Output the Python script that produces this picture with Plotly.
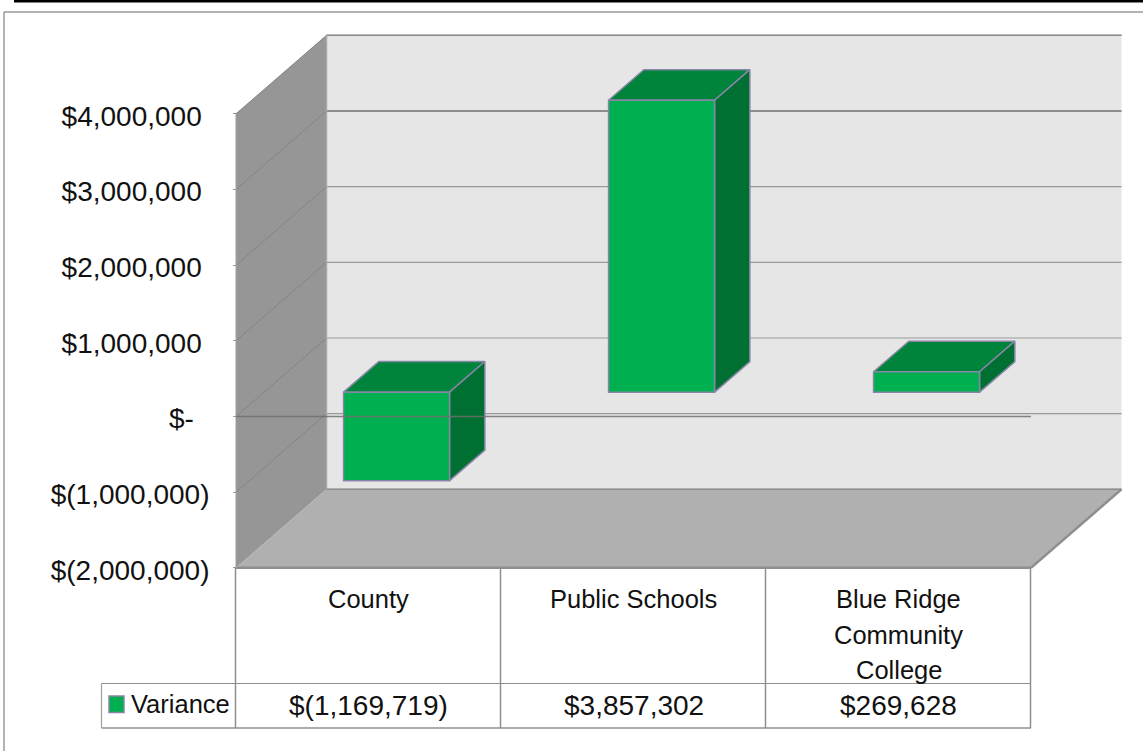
import plotly.graph_objects as go

# Chart data
categories = [["County"], ["Public Schools"], ["Blue Ridge", "Community", "College"]]
variance = [-1169719, 3857302, 269628]
variance_labels = ["$(1,169,719)", "$3,857,302", "$269,628"]
tick_values = [4000000, 3000000, 2000000, 1000000, 0, -1000000, -2000000]
tick_labels = ["$4,000,000\u00a0", "$3,000,000\u00a0", "$2,000,000\u00a0", "$1,000,000\u00a0",
               "$-\u00a0\u00a0", "$(1,000,000)", "$(2,000,000)"]
series_name = "Variance"

# Page scale of the front plane
W, H = 1143, 751
CAT_PX, PX_PER_DOLLAR = 265.0, 75.67 / 1e6
LEFT_PX, ZERO_PX = 236.0, 416.5
# Oblique projection of the depth axis
DEPTH_X, DEPTH_Y = 90.5, 78.5
BAR_NEAR, BAR_FAR = 0.31, 0.70
BAR_WIDTH = 0.40
LABEL_DROP_PX = 2.0

DIGIT_FONT = dict(family="Liberation Sans", size=28, color="#111111")
TEXT_FONT = dict(family="Liberation Sans", size=25.5, color="#111111")
LINE = "#8e8e8e"
BAR_EDGE = "#8686a6"


def x_of(px):
    return -0.5 + (px - LEFT_PX) / CAT_PX


def y_of(py):
    return (ZERO_PX - py) / PX_PER_DOLLAR


def project(i, v, d):
    """Position of a point at depth d (0 front, 1 back wall) in front-plane units."""
    return i + d * DEPTH_X / CAT_PX, v + d * DEPTH_Y / PX_PER_DOLLAR


x_range = [x_of(0), x_of(W)]
y_range = [y_of(H), y_of(0)]
x_last, y_low, y_high = 2.5, min(tick_values), max(tick_values)

fig = go.Figure()


def polygon(points, fill, edge=None, width=1.0):
    xs, ys = zip(*(points + points[:1]))
    fig.add_trace(go.Scatter(
        x=xs, y=ys, mode="lines", fill="toself", fillcolor=fill,
        line=dict(color=edge or fill, width=width if edge else 0),
        hoverinfo="skip", showlegend=False))


def segment(a, b, color=LINE, width=1.0):
    fig.add_trace(go.Scatter(
        x=[a[0], b[0]], y=[a[1], b[1]], mode="lines",
        line=dict(color=color, width=width), hoverinfo="skip", showlegend=False))


# Walls and floor
polygon([project(-0.5, y_low, 0), project(-0.5, y_high, 0),
         project(-0.5, y_high, 1), project(-0.5, y_low, 1)], "#969696")
polygon([project(-0.5, y_low, 1), project(-0.5, y_high, 1),
         project(x_last, y_high, 1), project(x_last, y_low, 1)], "#e6e6e6")
polygon([project(-0.5, y_low, 0), project(x_last, y_low, 0),
         project(x_last, y_low, 1), project(-0.5, y_low, 1)], "#b0b0b0")

# Gridlines across the back wall and side wall
for t in tick_values:
    is_heavy = t == 3000000
    segment(project(-0.5, t, 1), project(x_last, t, 1),
            "#8c8c8c" if is_heavy else "#999999", 2.0 if is_heavy else 1.2)
    if t > y_low:
        segment(project(-0.5, t, 0), project(-0.5, t, 1), "#848484", 1.0)
segment(project(-0.5, y_high, 1), project(x_last, y_high, 1), "#8c8c8c", 1.5)
segment(project(-0.5, y_low, 1), project(-0.5, y_high, 1), "#a8a8a8", 1.5)
segment(project(-0.5, y_low, 1), project(x_last, y_low, 1), "#8c8c8c", 1.5)
segment(project(x_last, y_low, 0), project(x_last, y_low, 1), "#8e8e8e", 2.5)
segment(project(-0.5, y_low, 0), project(x_last, y_low, 0), "#8e8e8e", 2.5)
segment(project(-0.5, y_low, 0), project(-0.5, y_high, 0), "#a0a0a0", 1.0)

# Top and side faces of each bar
half = BAR_WIDTH / 2
for i, v in enumerate(variance):
    top, bottom = max(v, 0), min(v, 0)
    polygon([project(i - half, top, BAR_NEAR), project(i + half, top, BAR_NEAR),
             project(i + half, top, BAR_FAR), project(i - half, top, BAR_FAR)],
            "#00833a", BAR_EDGE, 1.5)
    polygon([project(i + half, top, BAR_NEAR), project(i + half, bottom, BAR_NEAR),
             project(i + half, bottom, BAR_FAR), project(i + half, top, BAR_FAR)],
            "#006f32", BAR_EDGE, 1.5)

# Front faces on an overlaid pair of axes shifted to the bars' depth
fig.add_trace(go.Bar(
    x=[0, 1, 2], y=variance, width=BAR_WIDTH, name=series_name,
    marker=dict(color="#00b050", line=dict(color=BAR_EDGE, width=1.5)),
    xaxis="x2", yaxis="y2", showlegend=False, hoverinfo="skip"))

# Carrier for the value-axis labels, which sit a touch below their tick marks
fig.add_trace(go.Scatter(x=[None], y=[None], mode="lines", xaxis="x", yaxis="y3",
                         hoverinfo="skip", showlegend=False))

shift_x, shift_y = project(0, 0, BAR_NEAR)
label_drop = LABEL_DROP_PX / PX_PER_DOLLAR

# Zero line of the value axis, in front of the bars
shapes = [dict(type="line", xref="x", yref="y", x0=-0.5, x1=x_last, y0=0, y1=0,
               line=dict(color="rgba(112,112,112,0.85)", width=1.5), layer="above")]


def page_line(x0, y0, x1, y1, color=LINE, width=1.5):
    shapes.append(dict(type="line", xref="paper", yref="paper",
                       x0=x0 / W, x1=x1 / W, y0=1 - y0 / H, y1=1 - y1 / H,
                       line=dict(color=color, width=width), layer="above"))


# Page furniture: rule above the chart and chart frame
page_line(14, 1, W, 1, "#000000", 3)
page_line(4, 12, W, 12, "#9a9a9a", 1.5)
page_line(4, 12, 4, H, "#9a9a9a", 1.5)

# Data table grid
TABLE_MID, TABLE_BOTTOM, TABLE_TOP = 683.5, 728.0, 568.0
TABLE_LEFT, TABLE_RIGHT = 101.5, 1031.0
page_line(TABLE_LEFT, TABLE_MID, TABLE_RIGHT, TABLE_MID, "#909090", 1.2)
page_line(TABLE_LEFT, TABLE_BOTTOM, TABLE_RIGHT, TABLE_BOTTOM, "#909090", 1.5)
page_line(TABLE_LEFT, TABLE_MID, TABLE_LEFT, TABLE_BOTTOM, "#a0a0a0", 1.2)
for n in range(4):
    page_line(LEFT_PX + n * CAT_PX - 0.5, TABLE_TOP, LEFT_PX + n * CAT_PX - 0.5, TABLE_BOTTOM,
              "#8e8e8e", 1.5)

# Legend key in the table's first column
shapes.append(dict(type="rect", xref="paper", yref="paper",
                   x0=109 / W, x1=124 / W, y0=1 - 712.5 / H, y1=1 - 696 / H,
                   fillcolor="#00b050", line=dict(color=BAR_EDGE, width=1.5), layer="above"))

annotations = []


def label(x, py, text, font, anchor="center"):
    annotations.append(dict(x=x, y=y_of(py), xref="x", yref="y", text=text, showarrow=False,
                            font=font, xanchor=anchor, yanchor="middle"))


LINE_STEP = 35.5
for i, lines in enumerate(categories):
    for k, line in enumerate(lines):
        label(i, 599 + k * LINE_STEP, line, TEXT_FONT)
    label(i, 705, variance_labels[i], DIGIT_FONT)
label(x_of(129), 704, series_name, TEXT_FONT, "left")

axis_x = (LEFT_PX - 0.5) / W
fig.update_layout(
    width=W, height=H, margin=dict(l=0, r=0, t=0, b=0, pad=0),
    paper_bgcolor="white", plot_bgcolor="white", showlegend=False,
    shapes=shapes, annotations=annotations,
    xaxis=dict(range=x_range, domain=[0, 1], visible=False, fixedrange=True),
    yaxis=dict(range=y_range, domain=[0, 1], anchor="free", position=axis_x,
               tickmode="array", tickvals=tick_values, ticks="outside", ticklen=3,
               tickcolor="#999999", showticklabels=False, showgrid=False, zeroline=False,
               showline=False, fixedrange=True),
    yaxis3=dict(range=[y_range[0] + label_drop, y_range[1] + label_drop], overlaying="y",
                anchor="free", position=axis_x, tickmode="array", tickvals=tick_values,
                ticktext=tick_labels, tickfont=DIGIT_FONT, ticks="", ticklabelstandoff=26,
                showgrid=False, zeroline=False, showline=False, fixedrange=True),
    xaxis2=dict(range=[x_range[0] - shift_x, x_range[1] - shift_x], overlaying="x",
                visible=False, fixedrange=True),
    yaxis2=dict(range=[y_range[0] - shift_y, y_range[1] - shift_y], overlaying="y",
                visible=False, fixedrange=True),
)

fig.write_html("out.html")
